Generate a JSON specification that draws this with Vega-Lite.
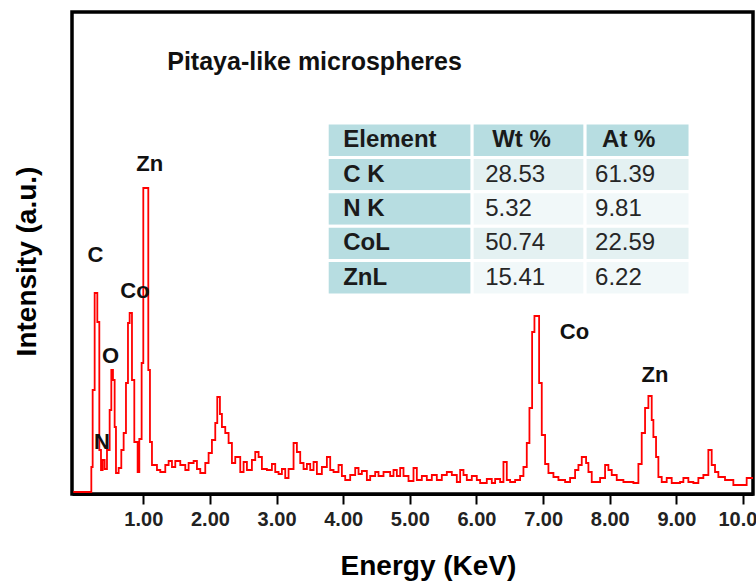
{
  "$schema": "https://vega.github.io/schema/vega-lite/v6.json",
  "width": 681,
  "height": 482,
  "autosize": {"type": "none"},
  "padding": {"left": 72, "top": 12, "right": 3, "bottom": 91},
  "background": "white",
  "config": {
    "font": "Liberation Sans",
    "view": {"stroke": "black", "strokeWidth": 3.5}
  },
  "resolve": {"scale": {"y": "independent"}},
  "layer": [
    {
      "layer": [
        {
          "data": {
            "values": [
              {"energy": -0.05, "intensity": 2}, {"energy": 0.22, "intensity": 27}, {"energy": 0.24, "intensity": 104},
              {"energy": 0.27, "intensity": 201}, {"energy": 0.31, "intensity": 172}, {"energy": 0.34, "intensity": 44},
              {"energy": 0.365, "intensity": 24}, {"energy": 0.39, "intensity": 34}, {"energy": 0.42, "intensity": 25},
              {"energy": 0.455, "intensity": 44}, {"energy": 0.495, "intensity": 84}, {"energy": 0.52, "intensity": 124},
              {"energy": 0.545, "intensity": 114}, {"energy": 0.57, "intensity": 67}, {"energy": 0.59, "intensity": 21},
              {"energy": 0.63, "intensity": 26}, {"energy": 0.67, "intensity": 44}, {"energy": 0.705, "intensity": 61},
              {"energy": 0.74, "intensity": 111}, {"energy": 0.77, "intensity": 171}, {"energy": 0.795, "intensity": 181},
              {"energy": 0.83, "intensity": 114}, {"energy": 0.865, "intensity": 52}, {"energy": 0.915, "intensity": 22},
              {"energy": 0.94, "intensity": 55}, {"energy": 0.975, "intensity": 131}, {"energy": 1.0, "intensity": 306},
              {"energy": 1.075, "intensity": 124}, {"energy": 1.1, "intensity": 52}, {"energy": 1.13, "intensity": 29},
              {"energy": 1.205, "intensity": 24}, {"energy": 1.255, "intensity": 22}, {"energy": 1.33, "intensity": 29},
              {"energy": 1.38, "intensity": 33}, {"energy": 1.43, "intensity": 27}, {"energy": 1.48, "intensity": 33},
              {"energy": 1.555, "intensity": 29}, {"energy": 1.63, "intensity": 24}, {"energy": 1.68, "intensity": 31},
              {"energy": 1.755, "intensity": 33}, {"energy": 1.805, "intensity": 25}, {"energy": 1.855, "intensity": 21},
              {"energy": 1.93, "intensity": 31}, {"energy": 1.98, "intensity": 41}, {"energy": 2.03, "intensity": 54},
              {"energy": 2.08, "intensity": 71}, {"energy": 2.11, "intensity": 97}, {"energy": 2.15, "intensity": 80},
              {"energy": 2.18, "intensity": 67}, {"energy": 2.23, "intensity": 61}, {"energy": 2.28, "intensity": 51},
              {"energy": 2.33, "intensity": 31}, {"energy": 2.38, "intensity": 37}, {"energy": 2.455, "intensity": 22},
              {"energy": 2.505, "intensity": 32}, {"energy": 2.555, "intensity": 24}, {"energy": 2.63, "intensity": 34},
              {"energy": 2.68, "intensity": 42}, {"energy": 2.73, "intensity": 37}, {"energy": 2.78, "intensity": 25},
              {"energy": 2.855, "intensity": 24}, {"energy": 2.93, "intensity": 30}, {"energy": 2.98, "intensity": 22},
              {"energy": 3.03, "intensity": 20}, {"energy": 3.08, "intensity": 25}, {"energy": 3.13, "intensity": 16},
              {"energy": 3.18, "intensity": 25}, {"energy": 3.255, "intensity": 51}, {"energy": 3.305, "intensity": 42},
              {"energy": 3.355, "intensity": 31}, {"energy": 3.405, "intensity": 25}, {"energy": 3.455, "intensity": 30},
              {"energy": 3.505, "intensity": 24}, {"energy": 3.555, "intensity": 32}, {"energy": 3.605, "intensity": 20},
              {"energy": 3.68, "intensity": 27}, {"energy": 3.755, "intensity": 37}, {"energy": 3.805, "intensity": 24},
              {"energy": 3.855, "intensity": 22}, {"energy": 3.93, "intensity": 29}, {"energy": 3.98, "intensity": 18},
              {"energy": 4.03, "intensity": 14}, {"energy": 4.105, "intensity": 19}, {"energy": 4.18, "intensity": 26},
              {"energy": 4.23, "intensity": 20}, {"energy": 4.28, "intensity": 23}, {"energy": 4.355, "intensity": 14},
              {"energy": 4.405, "intensity": 18}, {"energy": 4.48, "intensity": 22}, {"energy": 4.53, "intensity": 18},
              {"energy": 4.605, "intensity": 22}, {"energy": 4.705, "intensity": 18}, {"energy": 4.755, "intensity": 24},
              {"energy": 4.805, "intensity": 18}, {"energy": 4.855, "intensity": 26}, {"energy": 4.905, "intensity": 18},
              {"energy": 4.98, "intensity": 13}, {"energy": 5.055, "intensity": 26}, {"energy": 5.105, "intensity": 14},
              {"energy": 5.18, "intensity": 18}, {"energy": 5.255, "intensity": 14}, {"energy": 5.33, "intensity": 19},
              {"energy": 5.405, "intensity": 14}, {"energy": 5.48, "intensity": 19}, {"energy": 5.555, "intensity": 22},
              {"energy": 5.63, "intensity": 19}, {"energy": 5.705, "intensity": 12}, {"energy": 5.755, "intensity": 24},
              {"energy": 5.805, "intensity": 19}, {"energy": 5.855, "intensity": 14}, {"energy": 5.93, "intensity": 18},
              {"energy": 6.005, "intensity": 14}, {"energy": 6.055, "intensity": 11}, {"energy": 6.155, "intensity": 15},
              {"energy": 6.23, "intensity": 11}, {"energy": 6.28, "intensity": 15}, {"energy": 6.355, "intensity": 12},
              {"energy": 6.405, "intensity": 32}, {"energy": 6.455, "intensity": 14}, {"energy": 6.505, "intensity": 12},
              {"energy": 6.58, "intensity": 14}, {"energy": 6.655, "intensity": 18}, {"energy": 6.705, "intensity": 27},
              {"energy": 6.755, "intensity": 51}, {"energy": 6.795, "intensity": 86}, {"energy": 6.835, "intensity": 162},
              {"energy": 6.87, "intensity": 178}, {"energy": 6.94, "intensity": 111}, {"energy": 6.98, "intensity": 59},
              {"energy": 7.03, "intensity": 30}, {"energy": 7.08, "intensity": 21}, {"energy": 7.155, "intensity": 17},
              {"energy": 7.23, "intensity": 14}, {"energy": 7.33, "intensity": 12}, {"energy": 7.405, "intensity": 16},
              {"energy": 7.48, "intensity": 24}, {"energy": 7.53, "intensity": 29}, {"energy": 7.58, "intensity": 37},
              {"energy": 7.645, "intensity": 31}, {"energy": 7.68, "intensity": 22}, {"energy": 7.73, "intensity": 12},
              {"energy": 7.855, "intensity": 16}, {"energy": 7.93, "intensity": 29}, {"energy": 7.98, "intensity": 24},
              {"energy": 8.03, "intensity": 19}, {"energy": 8.105, "intensity": 14}, {"energy": 8.205, "intensity": 12},
              {"energy": 8.355, "intensity": 11}, {"energy": 8.43, "intensity": 30}, {"energy": 8.48, "intensity": 61},
              {"energy": 8.53, "intensity": 86}, {"energy": 8.58, "intensity": 98}, {"energy": 8.63, "intensity": 74},
              {"energy": 8.655, "intensity": 57}, {"energy": 8.695, "intensity": 37}, {"energy": 8.73, "intensity": 17},
              {"energy": 8.78, "intensity": 12}, {"energy": 8.855, "intensity": 16}, {"energy": 8.93, "intensity": 11},
              {"energy": 9.055, "intensity": 12}, {"energy": 9.105, "intensity": 16}, {"energy": 9.18, "intensity": 12},
              {"energy": 9.255, "intensity": 11}, {"energy": 9.33, "intensity": 16}, {"energy": 9.405, "intensity": 19},
              {"energy": 9.48, "intensity": 44}, {"energy": 9.53, "intensity": 29}, {"energy": 9.58, "intensity": 22},
              {"energy": 9.63, "intensity": 17}, {"energy": 9.73, "intensity": 14}, {"energy": 9.855, "intensity": 9},
              {"energy": 10.055, "intensity": 16}, {"energy": 10.15, "intensity": 16}
            ]
          },
          "mark": {"type": "line", "interpolate": "step-after", "color": "#ff0000", "strokeWidth": 1.8, "clip": true},
          "encoding": {
            "x": {
              "field": "energy", "type": "quantitative",
              "scale": {"domain": [-0.07, 10.15], "nice": false, "zero": false},
              "axis": {
                "title": "Energy (KeV)", "values": [1, 2, 3, 4, 5, 6, 7, 8, 9, 10], "format": ".2f",
                "grid": false, "domainColor": "black", "domainWidth": 3, "tickColor": "black", "tickWidth": 2,
                "tickSize": 10, "labelPadding": 5, "labelFontSize": 20, "labelFontWeight": "bold", "labelColor": "#222222",
                "labelFlush": false, "labelOverlap": false,
                "titleFontSize": 28, "titleFontWeight": "bold", "titleColor": "black",
                "titleX": 356, "titleY": 72, "titleBaseline": "middle", "titleAlign": "center"
              }
            },
            "y": {
              "field": "intensity", "type": "quantitative",
              "scale": {"domain": [0, 482], "nice": false},
              "axis": {
                "title": "Intensity (a.u.)", "ticks": false, "labels": false, "domain": false, "grid": false,
                "titleFontSize": 28, "titleFontWeight": "bold", "titleColor": "black", "titleAngle": 270,
                "titleX": -45, "titleY": 249, "titleAlign": "center", "titleBaseline": "middle"
              }
            }
          }
        },
        {
          "data": {
            "values": [
              {"label": "C", "energy": 0.28, "intensity": 239},
              {"label": "N", "energy": 0.38, "intensity": 52},
              {"label": "O", "energy": 0.51, "intensity": 138},
              {"label": "Co", "energy": 0.875, "intensity": 203},
              {"label": "Zn", "energy": 1.095, "intensity": 330},
              {"label": "Co", "energy": 7.47, "intensity": 162},
              {"label": "Zn", "energy": 8.68, "intensity": 119}
            ]
          },
          "mark": {"type": "text", "fontSize": 22, "fontWeight": "bold", "color": "#111111", "align": "center", "baseline": "middle"},
          "encoding": {
            "x": {"field": "energy", "type": "quantitative"},
            "y": {"field": "intensity", "type": "quantitative"},
            "text": {"field": "label"}
          }
        },
        {
          "data": {"values": [{"t": "Pitaya-like microspheres"}]},
          "mark": {"type": "text", "fontSize": 25, "fontWeight": "bold", "color": "#111111", "align": "center", "baseline": "middle"},
          "encoding": {
            "x": {"datum": 3.57, "type": "quantitative"},
            "y": {"datum": 432, "type": "quantitative"},
            "text": {"field": "t"}
          }
        }
      ]
    },
    {
      "data": {
        "values": [
          {"el": "Element", "wt": "Wt %", "at": "At %"},
          {"el": "C K", "wt": "28.53", "at": "61.39"},
          {"el": "N K", "wt": "5.32", "at": "9.81"},
          {"el": "CoL", "wt": "50.74", "at": "22.59"},
          {"el": "ZnL", "wt": "15.41", "at": "6.22"}
        ]
      },
      "encoding": {
        "y": {
          "field": "el", "type": "nominal", "sort": null, "axis": null,
          "scale": {"domain": ["Element", "C K", "N K", "CoL", "ZnL"], "range": [111, 283], "paddingInner": 0, "paddingOuter": 0}
        }
      },
      "layer": [
        {
          "mark": {"type": "rect", "fill": "#b7dde1", "stroke": "white", "strokeWidth": 3},
          "encoding": {"x": {"datum": 3.76, "type": "quantitative"}, "x2": {"datum": 5.935}}
        },
        {
          "mark": {"type": "rect", "stroke": "white", "strokeWidth": 3},
          "encoding": {
            "x": {"datum": 5.935, "type": "quantitative"}, "x2": {"datum": 7.63},
            "fill": {
              "condition": [
                {"test": "datum.el === 'Element'", "value": "#b7dde1"},
                {"test": "datum.el === 'C K' || datum.el === 'CoL'", "value": "#e4f1f2"}
              ],
              "value": "#f1f8f9"
            }
          }
        },
        {
          "mark": {"type": "rect", "stroke": "white", "strokeWidth": 3},
          "encoding": {
            "x": {"datum": 7.63, "type": "quantitative"}, "x2": {"datum": 9.205},
            "fill": {
              "condition": [
                {"test": "datum.el === 'Element'", "value": "#b7dde1"},
                {"test": "datum.el === 'C K' || datum.el === 'CoL'", "value": "#e4f1f2"}
              ],
              "value": "#f1f8f9"
            }
          }
        },
        {
          "mark": {"type": "text", "align": "left", "baseline": "middle", "fontSize": 24, "fontWeight": "bold", "color": "#1a1a1a"},
          "encoding": {"x": {"datum": 4.0, "type": "quantitative"}, "text": {"field": "el"}}
        },
        {
          "transform": [{"filter": "datum.el !== 'Element'"}],
          "mark": {"type": "text", "align": "left", "baseline": "middle", "fontSize": 24, "color": "#262626"},
          "encoding": {"x": {"datum": 6.13, "type": "quantitative"}, "text": {"field": "wt"}}
        },
        {
          "transform": [{"filter": "datum.el !== 'Element'"}],
          "mark": {"type": "text", "align": "left", "baseline": "middle", "fontSize": 24, "color": "#262626"},
          "encoding": {"x": {"datum": 7.78, "type": "quantitative"}, "text": {"field": "at"}}
        },
        {
          "transform": [{"filter": "datum.el === 'Element'"}],
          "mark": {"type": "text", "align": "left", "baseline": "middle", "fontSize": 24, "fontWeight": "bold", "color": "#1a1a1a"},
          "encoding": {"x": {"datum": 6.235, "type": "quantitative"}, "text": {"field": "wt"}}
        },
        {
          "transform": [{"filter": "datum.el === 'Element'"}],
          "mark": {"type": "text", "align": "left", "baseline": "middle", "fontSize": 24, "fontWeight": "bold", "color": "#1a1a1a"},
          "encoding": {"x": {"datum": 7.885, "type": "quantitative"}, "text": {"field": "at"}}
        }
      ]
    }
  ]
}
